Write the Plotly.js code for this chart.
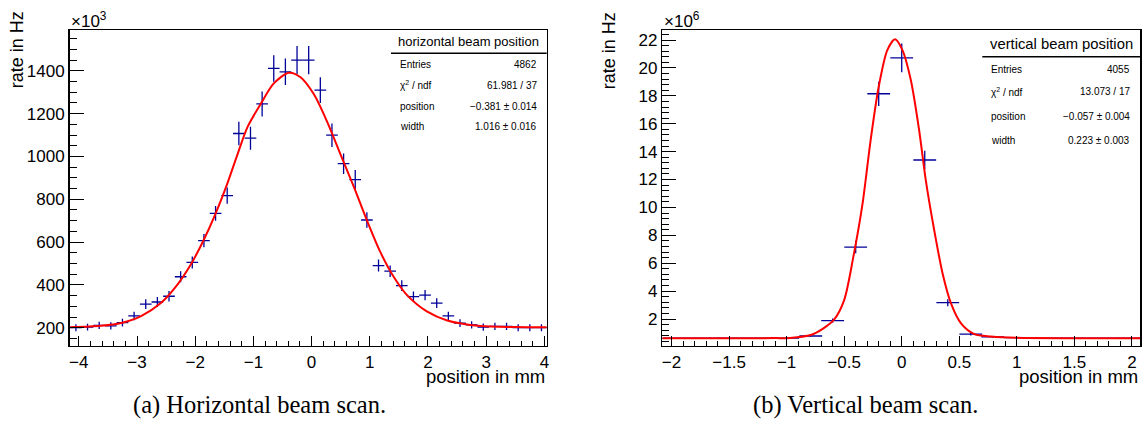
<!DOCTYPE html>
<html><head><meta charset="utf-8">
<script src="https://cdn.plot.ly/plotly-3.0.1.min.js"></script>
<style>html,body{margin:0;padding:0;background:#fff;}#chart{width:1145px;height:430px;}</style>
</head><body><div id="chart"></div>
<script>
// ---------- (a) horizontal beam scan (rate in 10^3 Hz) ----------
const hPos = [-4.05,-3.85,-3.65,-3.45,-3.25,-3.05,-2.85,-2.65,-2.45,-2.25,-2.05,-1.85,-1.65,-1.45,-1.25,-1.05,-0.85,-0.65,-0.45,-0.25,-0.05,0.15,0.35,0.55,0.75,0.95,1.15,1.35,1.55,1.75,1.95,2.15,2.35,2.55,2.75,2.95,3.15,3.35,3.55,3.75,3.95];
const hRate = [200,203,211,209,224,255,310,320,347,438,505,607,734,817,1107,1085,1245,1411,1395,1450,1450,1310,1099,966,892,703,490,464,397,345,352,315,255,221,213,203,206,206,200,200,200];
const hErr = [16,16,17,17,18,20,23,23,24,26,28,31,35,38,55,54,58,62,62,66,66,60,55,48,44,36,28,27,25,24,24,23,20,18,17,17,17,17,16,16,16];
const hHalfBin = [0.1];
const hFitX = [-4.16,-3.62,-3.27,-2.93,-2.59,-2.36,-2.07,-1.85,-1.65,-1.45,-1.27,-1.10,-0.87,-0.65,-0.39,-0.19,0.04,0.27,0.50,0.73,0.95,1.18,1.41,1.64,1.98,2.33,2.90,3.50,4.04];
const hFitY = [202,209,222,254,315,382,498,612,733,872,1012,1138,1247,1341,1391,1370,1290,1160,1007,855,702,554,438,352,276,234,208,203,202];
const hStats = [["Entries","4862"],["χ<sup>2</sup> / ndf","61.981 / 37"],["position","−0.381 ± 0.014"],["width","1.016 ± 0.016"]];

// ---------- (b) vertical beam scan (rate in 10^6 Hz) ----------
const vPos = [-1.98,-1.79,-1.59,-1.39,-1.19,-0.99,-0.79,-0.60,-0.40,-0.20,0.00,0.20,0.40,0.60,0.79,0.99,1.19,1.39,1.59,1.79,1.98];
const vRate = [0.62,0.62,0.62,0.62,0.62,0.63,0.78,1.88,7.16,18.15,20.73,13.40,3.17,0.92,0.72,0.66,0.62,0.62,0.62,0.62,0.62];
const vErr = [0.04,0.04,0.04,0.04,0.04,0.04,0.06,0.15,0.45,0.87,1.03,0.67,0.25,0.10,0.05,0.04,0.04,0.04,0.04,0.04,0.04];
const vHalfBin = [0.099];
const vFitX = [-2.08,-1.5,-1.1,-0.97,-0.79,-0.68,-0.59,-0.50,-0.42,-0.34,-0.27,-0.20,-0.125,-0.058,0.006,0.079,0.151,0.209,0.282,0.355,0.428,0.515,0.631,0.777,1.0,1.5,2.07];
const vFitY = [0.62,0.62,0.63,0.64,0.85,1.33,1.93,3.36,6.47,10.29,14.83,18.65,21.28,22.05,21.28,19.13,15.55,11.96,8.38,5.27,3.12,1.69,0.92,0.75,0.65,0.62,0.62];
const vStats = [["Entries","4055"],["χ<sup>2</sup> / ndf","13.073 / 17"],["position","−0.057 ± 0.004"],["width","0.223 ± 0.003"]];

const W = 1145, H = 430;
const px = x => x / W, py = y => 1 - y / H;
const FONT = 'Liberation Sans, Arial, Helvetica, sans-serif';
const BLUE = '#000099';

function histTrace(x, y, e, hb, xa, ya) {
  return {x: x, y: y, type: 'scatter', mode: 'markers', xaxis: xa, yaxis: ya,
    marker: {size: 1, opacity: 0},
    error_y: {type: 'data', array: e, visible: true, color: BLUE, thickness: 1.3, width: 0},
    error_x: {type: 'constant', value: hb[0], visible: true, color: BLUE, thickness: 1.3, width: 0},
    hoverinfo: 'skip', showlegend: false};
}
function fitTrace(x, y, xa, ya) {
  return {x: x, y: y, type: 'scatter', mode: 'lines', xaxis: xa, yaxis: ya,
    line: {color: '#ff0000', width: 2, shape: 'spline', smoothing: 0.8},
    hoverinfo: 'skip', showlegend: false};
}

const traces = [
  histTrace(hPos, hRate, hErr, hHalfBin, 'x', 'y'),
  fitTrace(hFitX, hFitY, 'x', 'y'),
  histTrace(vPos, vRate, vErr, vHalfBin, 'x2', 'y2'),
  fitTrace(vFitX, vFitY, 'x2', 'y2')
];

const yDom = [py(345.7), py(30.3)];
function xAxis(dom, range, dtick, minor, anchor) {
  return {domain: dom, range: range, anchor: anchor, showgrid: false, zeroline: false,
    showline: true, mirror: true, linecolor: '#000', linewidth: 1.5,
    ticks: 'inside', ticklen: 9.5, tickwidth: 1, tickcolor: '#000', dtick: dtick, tick0: 0,
    tickfont: {family: FONT, size: 17, color: '#000'},
    minor: {ticks: 'inside', ticklen: 5, dtick: minor, tick0: 0, tickwidth: 1, tickcolor: '#000', showgrid: false}};
}
function yAxis(range, dtick, minor, anchor) {
  return {domain: yDom, range: range, anchor: anchor, showgrid: false, zeroline: false,
    showline: true, mirror: true, linecolor: '#000', linewidth: 1.5,
    ticks: 'inside', ticklen: 14, tickwidth: 1, tickcolor: '#000', dtick: dtick, tick0: 0,
    tickfont: {family: FONT, size: 17, color: '#000'},
    minor: {ticks: 'inside', ticklen: 7, dtick: minor, tick0: 0, tickwidth: 1, tickcolor: '#000', showgrid: false}};
}

const ann = [];
const shapes = [];
function txt(t, x, y, size, xa, ya, extra) {
  ann.push(Object.assign({text: t, x: px(x), y: py(y), xref: 'paper', yref: 'paper',
    xanchor: xa, yanchor: ya, showarrow: false, font: {family: FONT, size: size, color: '#000'}}, extra || {}));
}
function statBox(title, rows, x0, x1, sepY, titleX, titleY, titleSize, labX, valX, rowY) {
  txt(title, titleX, titleY, titleSize, 'center', 'middle');
  shapes.push({type: 'line', xref: 'paper', yref: 'paper', x0: px(x0), x1: px(x1), y0: py(sepY), y1: py(sepY), line: {color: '#000', width: 1.5}});
  rows.forEach((r, i) => {
    txt(r[0], labX, rowY[i], 10, 'left', 'middle');
    txt(r[1], valX, rowY[i], 10, 'right', 'middle');
  });
}
statBox('horizontal beam position', hStats, 391, 546.7, 53.3, 468.8, 41.7, 13, 398.3, 538.7, [64.3, 85, 106.7, 126.7]);
statBox('vertical beam position', vStats, 982.3, 1140, 56.7, 1061, 44, 14.8, 989.3, 1131.7, [69, 91.7, 116.7, 140.7]);

// axis titles and multipliers
txt('rate in Hz', 17.3, 50, 18, 'center', 'middle', {textangle: -90});
txt('rate in Hz', 609.2, 51, 18, 'center', 'middle', {textangle: -90});
txt('×10<sup>3</sup>', 69, 20, 17, 'left', 'middle');
txt('×10<sup>6</sup>', 662, 20, 17, 'left', 'middle');
txt('position in mm', 546.7, 376.7, 18.5, 'right', 'middle');
txt('position in mm', 1140, 376.7, 18.5, 'right', 'middle');
// captions
ann.push({text: '(a) Horizontal beam scan.', x: px(259), y: py(405), xref: 'paper', yref: 'paper', xanchor: 'center', yanchor: 'middle', showarrow: false, font: {family: 'Liberation Serif, Times New Roman, serif', size: 24.5, color: '#000'}});
ann.push({text: '(b) Vertical beam scan.', x: px(865), y: py(405), xref: 'paper', yref: 'paper', xanchor: 'center', yanchor: 'middle', showarrow: false, font: {family: 'Liberation Serif, Times New Roman, serif', size: 24.5, color: '#000'}});

const layout = {
  width: W, height: H, autosize: false, margin: {l: 0, r: 0, t: 0, b: 0, pad: 0},
  paper_bgcolor: '#fff', plot_bgcolor: '#fff', showlegend: false,
  xaxis: xAxis([px(69.5), px(546.7)], [-4.16, 4.04], 1, 0.2, 'y'),
  yaxis: yAxis([116, 1589], 200, 50, 'x'),
  xaxis2: xAxis([px(662.3), px(1140)], [-2.08, 2.07], 0.5, 0.1, 'y2'),
  yaxis2: yAxis([0.086, 22.70], 2, 0.4, 'x2'),
  annotations: ann, shapes: shapes
};
Plotly.newPlot('chart', traces, layout, {displayModeBar: false, staticPlot: true});
</script></body></html>
